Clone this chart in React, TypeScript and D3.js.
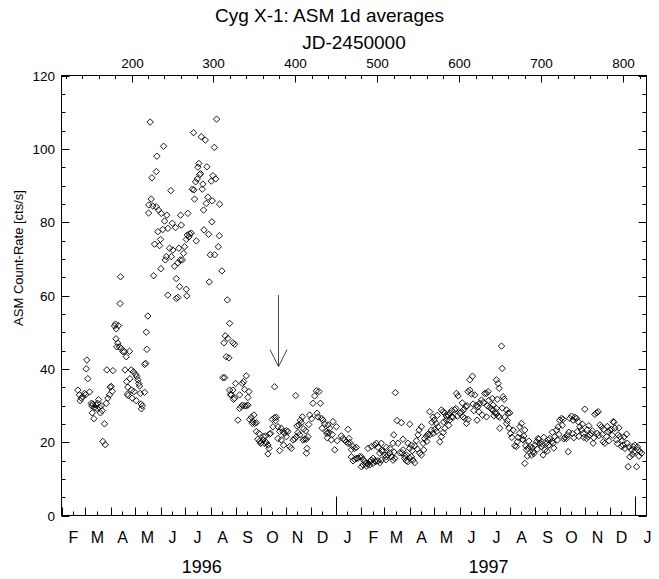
import React from "react";
import * as d3 from "d3";

const W = 659;
const H = 579;

const title = "Cyg X-1: ASM 1d averages";
const topAxisTitle = "JD-2450000";
const yAxisTitle = "ASM Count-Rate [cts/s]";
const jdTickStep = 20;
const jdLabelStep = 100;
const rateTickStep = 5;
const rateLabelStep = 20;
const monthInitials = ["J", "F", "M", "A", "M", "J", "J", "A", "S", "O", "N", "D"];
const yearLabels = [1996, 1997];
const jdDomain = [114.5, 828.5];
const rateDomain = [0, 120];
// arrow: [JD-2450000, from rate, to rate]
const arrowMark = [378.7, 60.1, 40.6];

// [JD-2450000, ASM rate]
const lowState1996: [number, number][] = [
  [134.4, 34.2], [136.5, 32.9], [138.6, 32], [137.3, 31.3], [140.5, 32.4], [142.6, 33.3], [143.8, 32.9],
  [145.4, 42.4], [144.7, 40], [146.6, 37.3], [148.7, 33.7], [150.8, 30.6], [151.5, 29.9], [152.7, 30.4],
  [154.8, 29.4], [152, 28], [154, 26.4], [156.9, 30.1], [158.5, 30.6], [159.7, 31.6], [160.9, 29.5],
  [163, 29.9], [157.6, 29.2], [162, 28], [164.2, 28.6], [167, 25], [164.9, 20.2], [167.9, 19.3],
  [169.1, 30.6], [171.1, 32], [173.1, 32.9], [169.8, 39.7], [174, 35], [175.2, 35.2], [177.2, 39.5],
  [176.4, 33.9], [179.2, 51.7], [180.4, 52.2], [181.3, 50.9], [181, 48.2], [183.2, 47], [182, 46],
  [185.3, 46], [187.4, 45.6], [189.4, 44.7], [186, 57.8], [184, 51.8], [186.6, 65.1], [191.4, 44.7],
  [193.5, 43.3], [197.5, 44.8], [192, 39.7], [199.6, 39.7], [202.4, 39.2], [204.9, 38.5], [206.5, 37.9],
  [194, 36.5], [198, 37.3], [195.5, 35], [200, 34.2], [203, 33.8], [195, 33.1], [196, 32.7], [200.8, 32],
  [205.7, 31.3], [207.7, 37], [208.9, 36], [209.8, 35.3], [210.6, 33.3], [215.9, 33.6], [211.8, 30.4],
  [213.1, 29.9], [212, 29.1], [217.1, 41.5], [216, 41.2], [218.7, 45.3], [218, 50], [219.9, 54.4],
];

const highState1996: [number, number][] = [
  [222.8, 107.3], [239.1, 100.7], [230.9, 98], [230.2, 93.8], [224.8, 92.1], [248, 88.6], [224, 86.3],
  [221.1, 84.7], [226, 84.4], [230.2, 84.2], [220.8, 82.5], [233, 83.3], [236.3, 82.4], [243.1, 81.9],
  [240.3, 80.3], [249.7, 79.7], [253.7, 78.5], [260.7, 79.2], [259.8, 81.9], [268.7, 82.4], [232.1, 77.4],
  [238.2, 78], [244.3, 78.3], [235.4, 75.3], [228.1, 74], [234.2, 73.6], [246.4, 72.9], [250.4, 72.4],
  [257.8, 72.9], [264.7, 73.3], [263.5, 71.5], [270.8, 76.8], [272.9, 77], [279, 74.9], [268, 76.5],
  [270, 76], [266.8, 75.3], [242.4, 70.6], [241.2, 69.7], [248.5, 70.6], [256.5, 68.9], [259.5, 69.7],
  [261.9, 69.7], [252.5, 68], [235.8, 67.3], [226.9, 65.4], [254.6, 64.6], [258.6, 62.4], [266.8, 61.7],
  [267.5, 59.9], [244.3, 60.1], [254.6, 59.2], [256.5, 59.5], [303.8, 108.1], [275.7, 104.4],
  [285.1, 103.3], [290, 102.4], [301, 100.4], [282.2, 96], [281, 95], [292, 95.1], [283, 93],
  [284.3, 93.2], [278.2, 91], [280.2, 91.8], [299.3, 92.7], [302.6, 91.8], [297.3, 91.2], [274.1, 89],
  [276.1, 88.8], [286.3, 89], [287.1, 90.4], [293.2, 86.8], [291.2, 85.1], [298.5, 85.8], [307.5, 84.9],
  [276.9, 86.3], [287.9, 83.3], [298, 80.1], [288.3, 77.9], [294, 76.7], [307.1, 76.3], [305.9, 73.3],
  [296.1, 71.1], [301.4, 71.1], [310.3, 66.7], [294.9, 63.7], [316.9, 58.8],
];

const decline1996: [number, number][] = [
  [319.7, 52.4], [314.4, 49], [317.6, 48.3], [312.7, 47.1], [323.7, 47.1], [325.8, 46.7], [315.6, 43.3],
  [318.8, 43], [311.5, 37.6], [313.6, 37.6], [319.7, 34.2], [323.7, 34.2], [321.8, 32.9], [325.8, 32],
  [320.5, 33], [327, 36], [335.2, 36], [336.8, 36.5], [340.1, 38.1], [343.3, 33.8], [342, 32.2],
  [331.9, 32.9], [338, 34.4], [324.5, 31.7], [329.8, 26], [331.9, 29.2], [334, 29.7], [335.2, 30.1],
  [338, 29.9], [340.1, 29.9], [342, 30.1], [344.1, 26.2], [346.2, 26.8], [348.1, 25.6], [349.4, 27.4],
  [347.4, 25.1], [350.2, 25.1], [352.3, 25.3], [352.3, 22.9], [355.5, 22.4], [354.2, 20.8], [356.3, 20.3],
  [358.4, 19.9], [360.3, 20.6], [362.4, 19.7], [364.5, 19.9], [366.5, 19.2], [367.7, 18.3], [366.5, 16.8],
  [357.5, 19.7], [361.2, 21.5], [363.6, 21.7], [368.5, 22.2], [369.7, 22.4], [372.6, 24.2], [371.8, 26.2],
  [374.6, 26.7], [376.7, 26.8], [375.9, 25.9], [374.6, 35.1], [378.7, 24.2], [380.7, 22.9], [382.8, 23.8],
  [384.8, 22.9], [386.8, 22.4], [388.9, 23.1], [390.9, 22.9], [378.7, 21], [382.8, 20.6], [380.7, 17.7],
  [385.6, 19.2], [388.9, 21.5], [393, 18.8], [395, 18.3], [397, 20.6], [399.1, 20.9], [401.2, 21.5],
  [401.9, 24.4], [404.3, 24.7], [406, 26], [408.5, 26.9], [407.3, 25.3], [403.1, 22.6], [405.2, 22],
  [400.3, 32.7], [409.2, 20.6], [411.3, 20.8], [413.4, 20.8], [415.3, 21.5], [414.1, 18.3], [413.4, 17],
  [412.5, 23.1], [417.4, 27.4], [421.4, 30.6], [423.5, 32.6], [425.6, 34], [428.7, 33.8], [430.5, 30.6],
  [426.3, 27.9], [427.5, 26.9], [431.7, 26.5], [433.6, 26], [435.7, 25], [437.8, 22.9], [439.7, 24.7],
  [441.8, 23.8], [443.9, 20.6], [445.8, 25.6], [447.9, 17.9], [450, 24.2], [438.5, 22.4], [441, 22.6],
  [410, 23.6], [416.2, 24.8], [419.8, 26.4], [432.6, 23.8], [438.8, 21.2], [444.9, 22.1], [451, 20.4],
];

const year1997: [number, number][] = [
  [456.1, 21.7], [458.1, 21], [460.1, 20.6], [462.2, 20.1], [464.2, 19.7], [465.4, 21], [466.2, 19.9],
  [464.2, 23.5], [468.3, 18], [470.3, 18.8], [472.3, 18.3], [474.4, 18.6], [468.3, 16], [470.3, 14.9],
  [472.3, 15.3], [474.4, 15.6], [476.4, 15.6], [478.4, 16], [480.5, 16], [482.5, 15.3], [484.6, 14.7],
  [486.6, 14.2], [488.6, 14], [490.7, 14.7], [492.7, 15.1], [494.7, 15.6], [496.8, 14.9], [480.5, 13.3],
  [482.5, 13.8], [486.6, 13.5], [490.7, 13.8], [494.7, 14.2], [498, 14.7], [500.8, 14.9], [502.9, 14.4],
  [504.9, 15.1], [488.6, 18.3], [492.7, 18.8], [496.8, 19.2], [498.8, 19.7], [500.8, 18.6], [502.9, 17],
  [506.2, 17.4], [509, 16.5], [511.1, 16], [513, 16.5], [515.1, 17.1], [517.2, 16], [519.1, 15.1],
  [521.2, 15.6], [504.9, 19.7], [511.1, 18.6], [515.1, 18.3], [519.1, 19.7], [522, 33.5], [520, 22],
  [524, 25.9], [529.4, 25.3], [531.3, 20.8], [525.2, 19.7], [527.3, 17.1], [530, 17.1], [531.3, 17.9],
  [533.4, 15.6], [535.5, 14.9], [537.4, 14.7], [539.5, 15.6], [541.6, 16], [543.5, 15.1], [545.6, 14.4],
  [539.5, 18.3], [537.4, 19.7], [541.6, 19.2], [535.5, 16.5], [533.4, 16.2], [539.5, 24.9], [545.6, 19],
  [547.7, 20.4], [549.6, 22], [550.9, 23.3], [553.8, 24.2], [551.7, 17], [553.8, 16.5], [555.8, 19.7],
  [557.8, 21], [559.9, 21.7], [561.9, 22.2], [563.9, 22], [566, 23.3], [568, 22.4], [563.9, 28.3],
  [568, 26.8], [569.2, 26], [572.1, 25.1], [576.2, 20.1], [578.2, 21.5], [580.2, 22.6], [582.3, 23.8],
  [570.1, 23.5], [574.1, 24.2], [572.1, 22.9], [578.2, 28.8], [580.2, 28.3], [582.3, 27.9], [584.3, 27.1],
  [586.3, 27.4], [588.4, 27.9], [590.5, 26.9], [592.4, 26.8], [584.3, 26], [588.4, 26], [594.5, 28.8],
  [595.7, 29.2], [596.5, 33.3], [598.5, 32.6], [600.6, 27.9], [602.7, 28.3], [604.6, 26.9], [606.7, 26.5],
  [608.8, 25.1], [610.7, 26.2], [607.9, 29.7], [609.5, 29.9], [612.8, 37], [616.1, 38], [610.7, 33.8],
  [612.8, 34.2], [614.9, 33.1], [618.9, 32.9], [616.8, 30.4], [621, 30.1], [621.7, 26], [622.9, 29.7],
  [625, 30.6], [627.1, 31.5], [629.1, 30.8], [631.1, 33.3], [633.2, 33.3], [635.2, 33.8], [633.2, 26.9],
  [637.2, 29.5], [639.3, 29], [641.3, 28.8], [643.3, 28], [645.4, 27.9], [647.4, 27.1], [649.4, 26.8],
  [645.4, 29.2], [641.3, 30.1], [649.4, 23.8], [645.4, 37], [647.4, 36], [648.7, 34.7], [651.5, 46.2],
  [652.3, 40.1], [653.5, 32.4], [654.7, 31.7], [657.6, 28.8], [659.6, 27.9], [661.6, 28], [655.5, 26.8],
  [657.6, 25.1], [660.8, 23.8], [662.5, 22.4], [665.7, 23.3],
  [505.6, 17.8], [510.5, 15.2], [520.4, 17.3], [542.6, 17.7], [548.7, 18.1], [556.6, 17.9], [560.3, 20.2],
  [566.5, 25.4], [573.1, 27.3], [581, 25.5], [587.1, 24.6], [590.8, 28.6], [597.6, 27.1], [603.7, 30.7],
  [605.5, 28.9], [617.7, 28.6], [623.8, 28.3], [628.1, 27.4], [634.2, 29.9], [636, 31.4], [640.3, 31.9],
  [642.2, 27.2], [646.4, 31.7], [652.5, 29.3], [658.6, 25.9], [664.1, 21.3],
];

const late1997: [number, number][] = [
  [667.8, 19], [669.8, 18.8], [671.8, 21.3], [673.8, 24.2], [675.9, 25.1], [677.2, 20.8], [677.9, 20.6],
  [680, 23.3], [680, 14.2], [681.2, 19], [682.1, 17.9], [684, 18.3], [686.1, 18.8], [688.1, 16.5],
  [690.1, 17.4], [692.2, 19.2], [694.3, 20.1], [696.2, 21], [698.3, 19.7], [700.4, 18.8], [702.3, 16.5],
  [704.4, 17.9], [706.5, 19.7], [708.4, 20.6], [710.5, 21], [712.6, 20.1], [714.5, 19.7], [716.6, 21.5],
  [718.7, 23.3], [720.6, 24.2], [722.7, 26], [724.8, 26.5], [726.7, 26.2], [728.8, 21.3], [730.9, 21],
  [732.9, 17.4], [734.9, 26.5], [737, 27.1], [738.9, 26], [741, 26.8], [743.1, 26.5], [745, 25.6],
  [747.1, 24.2], [749.2, 23.3], [751.2, 22.4], [753.2, 29], [755.3, 21], [757.3, 21.5], [759.3, 22],
  [761.4, 22.4], [763.4, 19.7], [765.4, 27.6], [767.5, 28], [769.5, 28.3], [771.6, 24.7], [773.6, 24.2],
  [775.6, 20.1], [777.7, 19.7], [779.8, 21.5], [781.7, 22.9], [783.8, 23.3], [785.9, 23.5], [787.8, 25.6],
  [789.9, 23.8], [792, 20.6], [793.9, 22], [796, 21.5], [798.1, 18.8], [800, 19.2], [802.1, 18.3],
  [804.2, 22.2], [806.1, 13.3], [808.2, 16], [810.3, 17.9], [812.2, 18.8], [814.3, 19.2], [816.4, 13.3],
  [818.3, 17.9], [820.4, 17.4], [822.5, 17],
  [670.8, 20.1], [673.3, 22.4], [678.8, 21.7], [683.1, 16.2], [684.9, 20.3], [689.2, 18.5], [691, 16.9],
  [695.3, 18.1], [697.1, 20.8], [701.4, 19.5], [703.2, 21.3], [707.4, 17.6], [709.3, 19.2], [713.6, 22.7],
  [715.4, 18.4], [719.7, 20.6], [721.5, 22.1], [725.8, 24.6], [727.6, 20.9], [731.9, 21.9], [733.7, 22.7],
  [738, 22.4], [739.8, 21.2], [744.1, 22.9], [745.9, 21.6], [750.2, 24.9], [752, 21.3], [756.3, 23.4],
  [758.1, 24.5], [762.4, 23.1], [764.2, 21.2], [768.5, 22.4], [770.3, 21.8], [774.6, 22.1], [776.4, 23.5],
  [780.7, 24.3], [782.6, 20.4], [786.8, 21.9], [788.7, 25.4], [793, 19.6], [794.8, 23.9], [799.1, 20.4],
  [800.9, 21.4], [805.2, 19.7], [807, 18.7], [811.3, 16.6], [813.1, 17.3], [817.4, 18.7], [819.2, 16.2],
];

const allPoints = [...lowState1996, ...highState1996, ...decline1996, ...year1997, ...late1997];

const FONT = "'Liberation Sans', Arial, Helvetica, sans-serif";

export default function App() {
  const left = 61.5;
  const right = 646.5;
  const top = 75.5;
  const bottom = 515.5;
  const x = d3.scaleLinear().domain(jdDomain).range([left, right]);
  const y = d3.scaleLinear().domain(rateDomain).range([bottom, top]);
  const toDay = (d: Date) => (d.getTime() - Date.UTC(1995, 9, 9, 12)) / 864e5;

  const monthStarts = d3.utcMonth.range(new Date(Date.UTC(1996, 1, 1)), new Date(Date.UTC(1998, 0, 2)));
  const midMonths = monthStarts.map((d) => new Date(Date.UTC(d.getUTCFullYear(), d.getUTCMonth(), 15)));

  const jdTicks = d3.range(120, jdDomain[1] + 0.01, jdTickStep);
  const rateTicks = d3.range(rateDomain[0], rateDomain[1] + 0.01, rateTickStep);
  const r = 3.2;
  const plotMid = (left + right) / 2;

  const yearSpan = (yr: number) => {
    const a = Math.max(jdDomain[0], toDay(new Date(Date.UTC(yr, 0, 1))));
    const b = Math.min(toDay(new Date(Date.UTC(yr + 1, 0, 1))), jdDomain[1]);
    return (x(a) + x(b)) / 2 + 3;
  };

  const ax = Math.round(x(arrowMark[0])) + 0.5;
  const ay0 = y(arrowMark[1]);
  const ay1 = y(arrowMark[2]);

  return (
    <svg width={W} height={H} style={{ position: "absolute", left: 0, top: 0, background: "#fff" }} fontFamily={FONT}>
      <rect x={0} y={0} width={W} height={H} fill="#fff" />
      <text x={W / 2} y={22} textAnchor="middle" fontSize={19}>{title}</text>
      <text x={plotMid} y={49} textAnchor="middle" fontSize={19}>{topAxisTitle}</text>

      {/* frame */}
      <rect x={left} y={top} width={right - left} height={bottom - top} fill="none" stroke="#000" strokeWidth={1} />

      {/* top axis */}
      {jdTicks.map((t) => {
        const major = t % jdLabelStep === 0;
        const px = Math.round(x(t)) + 0.5;
        return (
          <g key={"jt" + t}>
            <line x1={px} x2={px} y1={top} y2={top + (major ? 7 : 3.5)} stroke="#000" />
            {major && (
              <text x={px} y={68} textAnchor="middle" fontSize={13.5}>{t}</text>
            )}
          </g>
        );
      })}

      {/* left & right axes */}
      {rateTicks.map((t) => {
        const major = t % rateLabelStep === 0;
        const py = Math.round(y(t)) + 0.5;
        const len = major ? 8 : 4;
        return (
          <g key={"rt" + t}>
            <line x1={left} x2={left + len} y1={py} y2={py} stroke="#000" />
            <line x1={right} x2={right - len} y1={py} y2={py} stroke="#000" />
            {major && (
              <text x={55} y={py} dy="0.35em" textAnchor="end" fontSize={13.5}>{t}</text>
            )}
          </g>
        );
      })}
      <text transform={`translate(23,258) rotate(-90)`} textAnchor="middle" fontSize={13}>{yAxisTitle}</text>

      {/* bottom axis: months */}
      {monthStarts.map((d, i) => {
        const px = Math.round(x(toDay(d))) + 0.5;
        const len = d.getUTCMonth() === 0 ? 19 : 8;
        return <line key={"ms" + i} x1={px} x2={px} y1={bottom} y2={bottom - len} stroke="#000" />;
      })}
      {midMonths.map((d, i) => {
        const px = Math.round(x(toDay(d))) + 0.5;
        return (
          <g key={"mm" + i}>
            {px < right - 1 && <line x1={px} x2={px} y1={bottom} y2={bottom - 4} stroke="#000" />}
            <text x={px} y={543} textAnchor="middle" fontSize={16}>{monthInitials[d.getUTCMonth()]}</text>
          </g>
        );
      })}
      {yearLabels.map((yr) => (
        <text key={"yr" + yr} x={yearSpan(yr)} y={573} textAnchor="middle" fontSize={18}>{yr}</text>
      ))}

      {/* data */}
      {allPoints.map(([d, v], i) => {
        const cx = x(d);
        const cy = y(v);
        return (
          <path
            key={"p" + i}
            d={`M${cx},${cy - r}L${cx + r},${cy}L${cx},${cy + r}L${cx - r},${cy}Z`}
            fill="none"
            stroke="#000"
            strokeWidth={0.9}
          />
        );
      })}

      {/* arrow */}
      <line x1={ax} x2={ax} y1={ay0} y2={ay1} stroke="#444" />
      <polyline
        points={`${ax - 8.5},${ay1 - 17} ${ax},${ay1} ${ax + 8.5},${ay1 - 17}`}
        fill="none"
        stroke="#444"
      />
    </svg>
  );
}
